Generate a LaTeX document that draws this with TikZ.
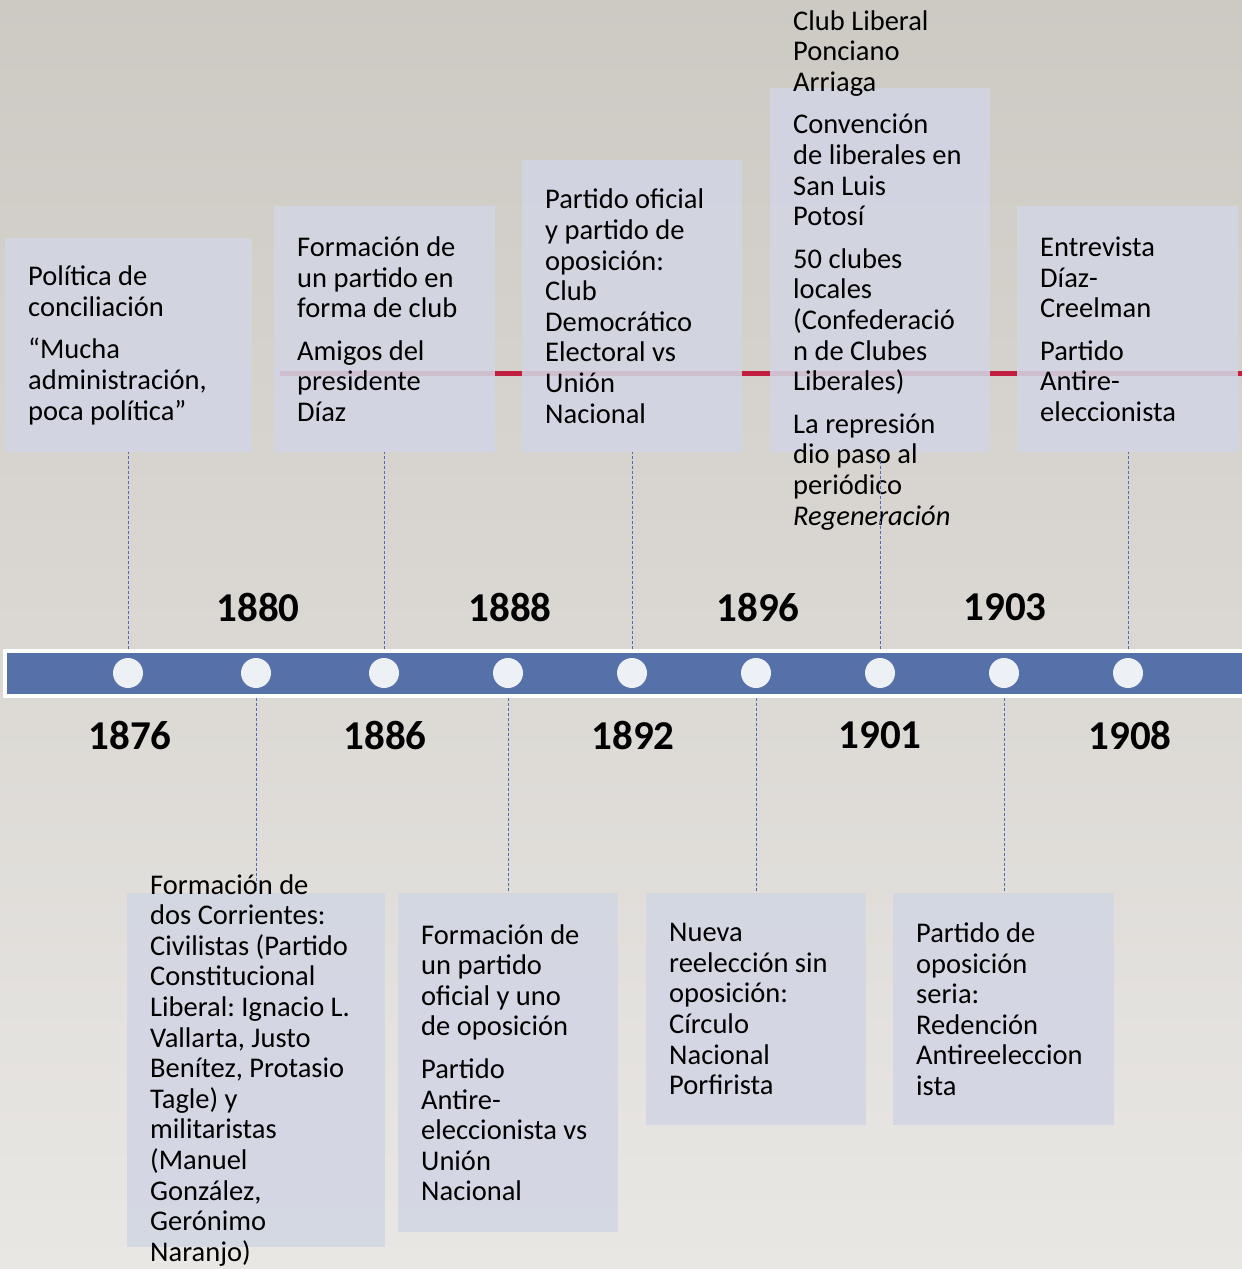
\documentclass[tikz,border=0pt]{standalone}
\usepackage{fontspec}
\setmainfont{Carlito}
\frenchspacing
\usetikzlibrary{positioning}
\definecolor{bgtop}{RGB}{205,201,195}
\definecolor{bgbot}{RGB}{233,231,228}
\definecolor{boxfill}{RGB}{210,214,228}
\definecolor{barblue}{RGB}{86,112,169}
\definecolor{dotfill}{RGB}{237,240,245}
\definecolor{redline}{RGB}{192,31,63}
\definecolor{linkblue}{RGB}{78,108,180}

\begin{document}
\begin{tikzpicture}[x=1pt, y=-1pt,
    evbox/.style={rectangle, fill=boxfill, fill opacity=0.87, inner sep=0pt, anchor=north west},
    evtext/.style={anchor=west, inner sep=0pt, align=left, font=\fontsize{28.5}{30.6}\selectfont},
    year/.style={inner sep=0pt, font=\fontsize{41}{43}\selectfont\bfseries},
    dot/.style={circle, fill=dotfill, minimum size=30pt, inner sep=0pt},
    link/.style={draw=linkblue, line width=1pt, dash pattern=on 3pt off 2pt}
]
\useasboundingbox (0,0) rectangle (1242,1269);
\shade[top color=bgtop, bottom color=bgbot] (0,0) rectangle (1242,1269);
\draw [redline, line width=5pt] (280,373) -- (1242,373);

% top row
\node (E1876) [evbox, minimum width=247pt, minimum height=214pt] at (5,238) {};
\node (E1886) [evbox, minimum width=221pt, minimum height=246pt] at (274,206) {};
\node (E1892) [evbox, minimum width=220pt, minimum height=292pt] at (522,160) {};
\node (E1901) [evbox, minimum width=220pt, minimum height=364pt] at (770,88) {};
\node (E1908) [evbox, minimum width=221pt, minimum height=246pt] at (1017,206) {};
% bottom row
\node (E1880) [evbox, minimum width=258pt, minimum height=354pt] at (127,893) {};
\node (E1888) [evbox, minimum width=220pt, minimum height=339pt] at (398,893) {};
\node (E1896) [evbox, minimum width=220pt, minimum height=232pt] at (646,893) {};
\node (E1903) [evbox, minimum width=221pt, minimum height=232pt] at (893,893) {};

\node (T1876) [evtext] at ([xshift=23pt]E1876.west) {Política de\\conciliación\\[12pt]“Mucha\\administración,\\poca política”};
\node (T1886) [evtext] at ([xshift=23pt]E1886.west) {Formación de\\un partido en\\forma de club\\[12pt]Amigos del\\presidente\\Díaz};
\node (T1892) [evtext] at ([xshift=23pt]E1892.west) {Partido oficial\\y partido de\\oposición:\\Club\\Democrático\\Electoral vs\\Unión\\Nacional};
\node (T1901) [evtext] at ([xshift=23pt]E1901.west) {Club Liberal\\Ponciano\\Arriaga\\[12pt]Convención\\de liberales en\\San Luis\\Potosí\\[12pt]50 clubes\\locales\\(Confederació\\n de Clubes\\Liberales)\\[12pt]La represión\\dio paso al\\periódico\\\textit{Regeneración}};
\node (T1908) [evtext] at ([xshift=23pt]E1908.west) {Entrevista\\Díaz-\\Creelman\\[12pt]Partido\\Antire-\\eleccionista};
\node (T1880) [evtext] at ([xshift=23pt]E1880.west) {Formación de\\dos Corrientes:\\Civilistas (Partido\\Constitucional\\Liberal: Ignacio L.\\Vallarta, Justo\\Benítez, Protasio\\Tagle) y\\militaristas\\(Manuel\\González,\\Gerónimo\\Naranjo)};
\node (T1888) [evtext] at ([xshift=23pt]E1888.west) {Formación de\\un partido\\oficial y uno\\de oposición\\[12pt]Partido\\Antire-\\eleccionista vs\\Unión\\Nacional};
\node (T1896) [evtext] at ([xshift=23pt]E1896.west) {Nueva\\reelección sin\\oposición:\\Círculo\\Nacional\\Porfirista};
\node (T1903) [evtext] at ([xshift=23pt]E1903.west) {Partido de\\oposición\\seria:\\Redención\\Antireeleccion\\ista};

% timeline
\node (BAR) [rectangle, fill=barblue, draw=white, line width=4pt, inner sep=0pt, minimum width=1247pt, minimum height=45pt] at (628.5,673.5) {};
\node (D1876) [dot] at (128,673) {};
\node (D1880) [dot] at (256,673) {};
\node (D1886) [dot] at (384,673) {};
\node (D1888) [dot] at (508,673) {};
\node (D1892) [dot] at (632,673) {};
\node (D1896) [dot] at (756,673) {};
\node (D1901) [dot] at (880,673) {};
\node (D1903) [dot] at (1004,673) {};
\node (D1908) [dot] at (1128,673) {};

\draw [link] (D1876 |- BAR.north) -- (D1876 |- E1876.south);
\draw [link] (D1880 |- BAR.south) -- (D1880 |- E1880.north);
\draw [link] (D1886 |- BAR.north) -- (D1886 |- E1886.south);
\draw [link] (D1888 |- BAR.south) -- (D1888 |- E1888.north);
\draw [link] (D1892 |- BAR.north) -- (D1892 |- E1892.south);
\draw [link] (D1896 |- BAR.south) -- (D1896 |- E1896.north);
\draw [link] (D1901 |- BAR.north) -- (D1901 |- E1901.south);
\draw [link] (D1903 |- BAR.south) -- (D1903 |- E1903.north);
\draw [link] (D1908 |- BAR.north) -- (D1908 |- E1908.south);

\node (Y1880) [year] at (258,607) {1880};
\node (Y1888) [year] at (510,607) {1888};
\node (Y1896) [year] at (758,607) {1896};
\node (Y1903) [year] at (1005,607) {1903};
\node (Y1876) [year] at (130,735) {1876};
\node (Y1886) [year] at (385,735) {1886};
\node (Y1892) [year] at (633,735) {1892};
\node (Y1901) [year] at (880,735) {1901};
\node (Y1908) [year] at (1130,735) {1908};
\end{tikzpicture}
\end{document}
